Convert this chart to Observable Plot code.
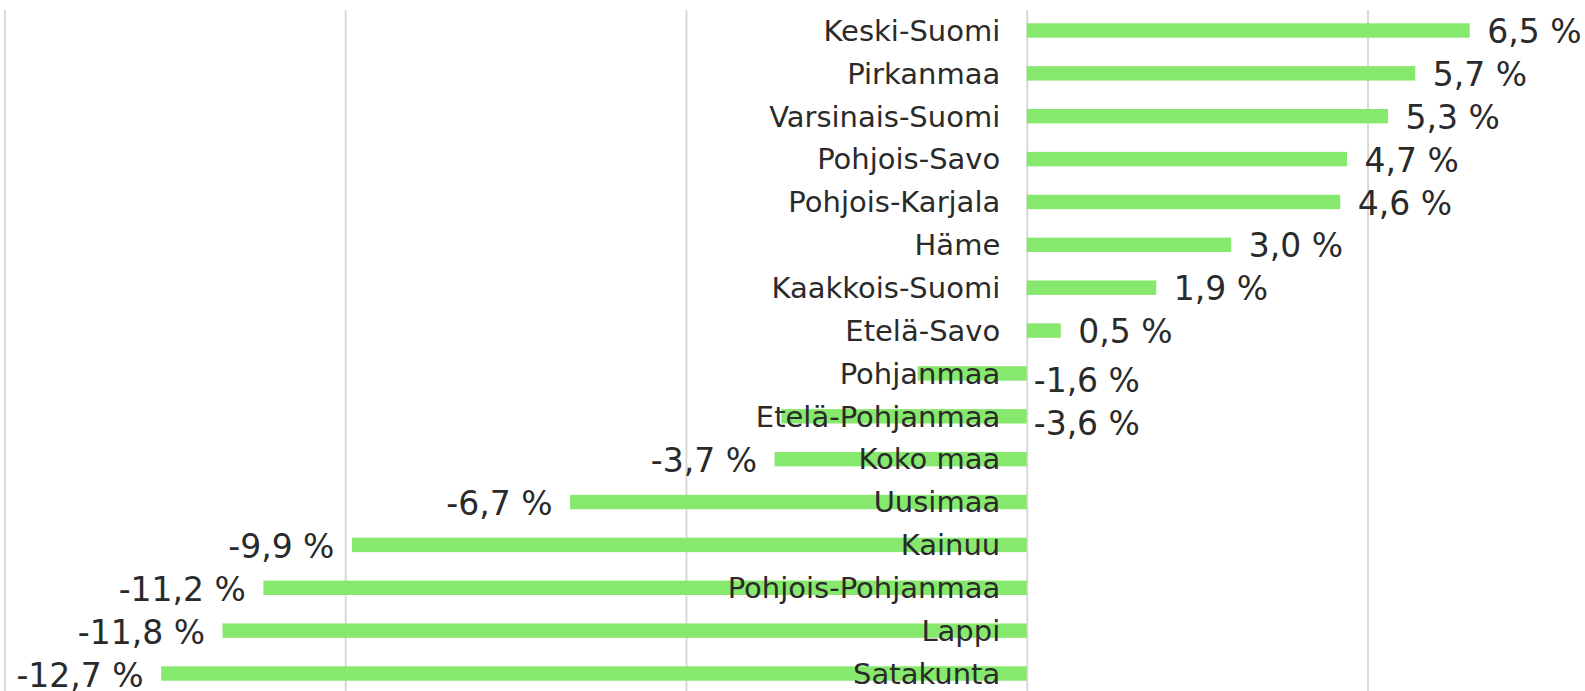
<!DOCTYPE html>
<html>
<head>
<meta charset="utf-8">
<script src="https://cdn.jsdelivr.net/npm/d3@7"></script>
<script src="https://cdn.jsdelivr.net/npm/@observablehq/plot@0.6"></script>
<style>
  html, body { margin: 0; padding: 0; background: #ffffff; overflow: hidden; }
  svg { display: block; overflow: visible; }
</style>
</head>
<body>
<div id="chart"></div>
<script>
// Data
const regions = [
  "Keski-Suomi", "Pirkanmaa", "Varsinais-Suomi", "Pohjois-Savo", "Pohjois-Karjala",
  "Häme", "Kaakkois-Suomi", "Etelä-Savo", "Pohjanmaa", "Etelä-Pohjanmaa",
  "Koko maa", "Uusimaa", "Kainuu", "Pohjois-Pohjanmaa", "Lappi", "Satakunta"
];
const changes = [6.5, 5.7, 5.3, 4.7, 4.6, 3.0, 1.9, 0.5, -1.6, -3.6, -3.7, -6.7, -9.9, -11.2, -11.8, -12.7];
const gridTicks = [-15, -10, -5, 0, 5];
// negative values whose labels sit to the right of the axis in the original
const labelRightOfAxis = ["Pohjanmaa", "Etelä-Pohjanmaa"];

const fmt = v => (v < 0 ? "-" : "") + Math.abs(v).toFixed(1).replace(".", ",") + " %";
const data = regions.map((r, i) => ({region: r, value: changes[i], label: fmt(changes[i])}));

const font = "'DejaVu Sans', Verdana, sans-serif";
const textColor = "#2a2a2a";

const pos = data.filter(d => d.value >= 0);
const negLeft = data.filter(d => d.value < 0 && !labelRightOfAxis.includes(d.region));
const negRight = data.filter(d => d.value < 0 && labelRightOfAxis.includes(d.region));

const chart = Plot.plot({
  width: 1585,
  height: 691,
  marginTop: 10,
  marginBottom: -3,
  marginLeft: 0,
  marginRight: 0,
  style: {fontFamily: font, background: "#ffffff"},
  x: {domain: [-15, 5], range: [4.4, 1367.5], axis: null},
  y: {domain: regions, paddingInner: 0.664, paddingOuter: 0.31, align: 0.5, round: false, axis: null},
  marks: [
    Plot.ruleX(gridTicks, {stroke: "#d9d9d9", strokeWidth: 2}),
    Plot.barX(data, {x1: 0, x2: "value", y: "region", fill: "#86e86c"}),
    Plot.text(data, {x: 0, y: "region", text: "region", textAnchor: "end", dx: -27, dy: 0.5,
      fontSize: 29, fill: textColor, fontFamily: font}),
    Plot.text(pos, {x: "value", y: "region", text: "label", textAnchor: "start", dx: 17, dy: 1.5,
      fontSize: 33, fill: textColor, fontFamily: font}),
    Plot.text(negLeft, {x: "value", y: "region", text: "label", textAnchor: "end", dx: -18, dy: 2,
      fontSize: 33, fill: textColor, fontFamily: font}),
    Plot.text(negRight, {x: 0, y: "region", text: "label", textAnchor: "start", dx: 6.5, dy: 8,
      fontSize: 33, fill: textColor, fontFamily: font})
  ]
});
document.getElementById("chart").appendChild(chart);
</script>
</body>
</html>
